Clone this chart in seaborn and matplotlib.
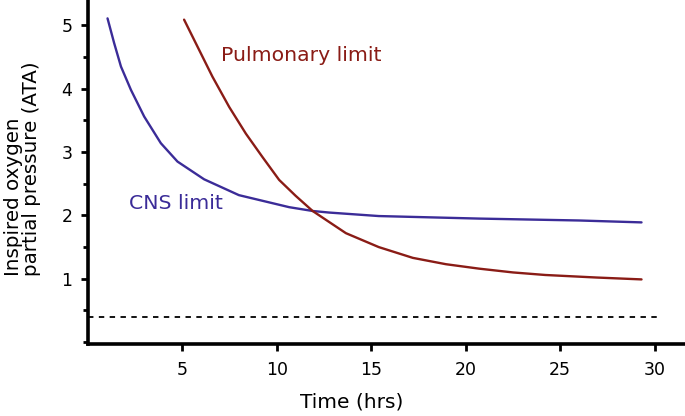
#!/usr/bin/env python3
"""Oxygen toxicity limits: CNS vs pulmonary."""
import matplotlib
matplotlib.use("Agg")
import matplotlib.pyplot as plt
import pandas as pd
import seaborn as sns
from matplotlib.ticker import MultipleLocator

# values
cns_time = [1.05, 1.40, 1.76, 2.29, 2.99, 3.87, 4.75, 6.16, 8.0, 10.66,
            11.9, 12.78, 15.4, 20.7, 26.0, 29.3]
cns_ppo2 = [5.11, 4.72, 4.35, 3.98, 3.56, 3.14, 2.85, 2.57, 2.32, 2.13,
            2.07, 2.045, 1.99, 1.95, 1.92, 1.89]
pulm_time = [5.1, 5.9, 6.6, 7.49, 8.37, 9.25, 10.13, 11.0, 11.9, 13.66,
             15.4, 17.2, 18.95, 20.7, 22.5, 24.2, 26.9, 29.3]
pulm_ppo2 = [5.09, 4.61, 4.19, 3.71, 3.29, 2.92, 2.56, 2.31, 2.07, 1.72,
             1.50, 1.33, 1.23, 1.16, 1.10, 1.06, 1.02, 0.99]
threshold = 0.4
x_ticks = [5, 10, 15, 20, 25, 30]
y_ticks = [1, 2, 3, 4, 5]

CNS_COLOR = "#3b2c98"
PULM_COLOR = "#8a1c16"

sns.set_theme(style="ticks")
plt.rcParams["font.family"] = ["DejaVu Sans"]

df = pd.concat([
    pd.DataFrame({"time": cns_time, "ppo2": cns_ppo2, "limit": "CNS limit"}),
    pd.DataFrame({"time": pulm_time, "ppo2": pulm_ppo2, "limit": "Pulmonary limit"}),
])

fig = plt.figure(figsize=(6.85, 4.16), dpi=100)
ax = fig.add_axes([0.128, 0.173, 0.872, 0.827])

sns.lineplot(data=df, x="time", y="ppo2", hue="limit",
             palette={"CNS limit": CNS_COLOR, "Pulmonary limit": PULM_COLOR},
             linewidth=1.7, legend=False, ax=ax, estimator=None, sort=True)
for line in ax.get_lines():
    line.set_solid_joinstyle("round")

ax.plot([0, 30.2], [threshold, threshold], ls=(0, (3, 3)), color="black", lw=1.3)

ax.text(2.2, 2.19, "CNS limit", color=CNS_COLOR, fontsize=14.7, va="center")
ax.text(7.06, 4.53, "Pulmonary limit", color=PULM_COLOR, fontsize=14.7, va="center")

ax.set_xlim(0, 31.6)
ax.set_ylim(-0.03, 5.4)
ax.set_xticks(x_ticks)
ax.set_yticks(y_ticks)
ax.yaxis.set_minor_locator(MultipleLocator(0.5))
ax.tick_params(axis="both", which="major", length=5, width=2, pad=6,
               labelsize=12.5, colors="black")
ax.tick_params(axis="y", which="minor", length=3.5, width=2, colors="black")
ax.tick_params(axis="x", pad=7)

ax.set_xlabel("Time (hrs)", fontsize=14.5, color="black")
ax.set_ylabel("Inspired oxygen\npartial pressure (ATA)", fontsize=14.3,
              linespacing=0.95, multialignment="left", color="black")
ax.xaxis.set_label_coords(0.442, -0.142)
ax.yaxis.set_label_coords(-0.078, 0.51)

for side in ("top", "right"):
    ax.spines[side].set_visible(False)
for side in ("left", "bottom"):
    ax.spines[side].set_linewidth(2.6)
    ax.spines[side].set_color("black")

fig.savefig("out.png", dpi=100)
